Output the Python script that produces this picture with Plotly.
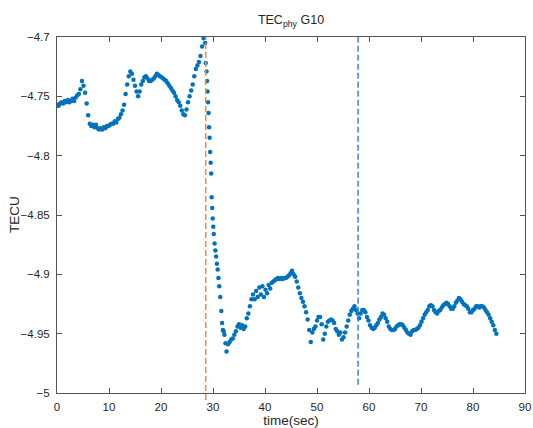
import numpy as np
import plotly.graph_objects as go

# ---- data ----
# segment before the drop: samples every 0.3 s starting at 0 s
tec_pre = [
    -4.757, -4.758, -4.756, -4.755, -4.756, -4.754, -4.755, -4.753, -4.755, -4.754,
    -4.752, -4.754, -4.751, -4.749, -4.748, -4.744, -4.737, -4.741, -4.747, -4.756,
    -4.766, -4.773, -4.775, -4.774, -4.776, -4.774, -4.777, -4.778, -4.777, -4.778,
    -4.776, -4.777, -4.775, -4.775, -4.774, -4.773, -4.773, -4.771, -4.772, -4.769,
    -4.768, -4.765, -4.762, -4.757, -4.748, -4.740, -4.733, -4.729, -4.731, -4.736,
    -4.741, -4.746, -4.750, -4.746, -4.740, -4.737, -4.734, -4.733, -4.735, -4.737,
    -4.737, -4.736, -4.735, -4.733, -4.731, -4.732, -4.733, -4.734, -4.735, -4.736,
    -4.737, -4.739, -4.741, -4.743, -4.745, -4.747, -4.750, -4.753, -4.755, -4.758,
    -4.762, -4.765, -4.766, -4.761, -4.755, -4.750, -4.745, -4.740, -4.733, -4.727,
    -4.724, -4.721, -4.716, -4.708, -4.701, -4.705,
]
pre_start, pre_step = 0.0, 0.3

# the drop (irregular sample times)
time_drop = [
    28.6, 28.75, 28.85, 28.95, 29.05, 29.15, 29.25, 29.35, 29.45, 29.55,
    29.65, 29.75, 29.85, 29.95, 30.05, 30.15, 30.3, 30.45, 30.6, 30.75,
    30.9, 31.05, 31.2, 31.4, 31.6, 31.75, 31.9, 32.05, 32.2, 32.4, 32.6,
]
tec_drop = [
    -4.722, -4.729, -4.737, -4.746, -4.755, -4.764, -4.776, -4.785, -4.797, -4.806,
    -4.815, -4.835, -4.844, -4.853, -4.860, -4.866, -4.874, -4.880, -4.885, -4.891,
    -4.896, -4.903, -4.910, -4.919, -4.931, -4.941, -4.947, -4.948, -4.951, -4.958,
    -4.965,
]

# segment after the drop: samples every 0.3 s starting at 32.9 s
tec_post = [
    -4.959, -4.957, -4.955, -4.954, -4.951, -4.948, -4.944, -4.942, -4.945, -4.943,
    -4.946, -4.944, -4.937, -4.933, -4.927, -4.921, -4.917, -4.921, -4.914, -4.919,
    -4.911, -4.917, -4.910, -4.919, -4.913, -4.916, -4.909, -4.912, -4.907, -4.906,
    -4.905, -4.904, -4.903, -4.904, -4.903, -4.904, -4.903, -4.903, -4.902, -4.901,
    -4.899, -4.897, -4.900, -4.902, -4.906, -4.911, -4.916, -4.920, -4.923, -4.927,
    -4.932, -4.938, -4.947, -4.957, -4.949, -4.946, -4.944, -4.939, -4.936, -4.936,
    -4.942, -4.955, -4.950, -4.944, -4.940, -4.939, -4.938, -4.939, -4.941, -4.946,
    -4.948, -4.951, -4.949, -4.955, -4.953, -4.949, -4.944, -4.939, -4.934, -4.931,
    -4.929, -4.927, -4.930, -4.933, -4.937, -4.933, -4.930, -4.930, -4.932, -4.936,
    -4.939, -4.943, -4.945, -4.946, -4.945, -4.943, -4.941, -4.938, -4.936, -4.933,
    -4.934, -4.937, -4.940, -4.944, -4.946, -4.947, -4.947, -4.946, -4.944, -4.943,
    -4.942, -4.942, -4.943, -4.945, -4.947, -4.949, -4.950, -4.951, -4.948, -4.947,
    -4.947, -4.946, -4.945, -4.943, -4.940, -4.937, -4.934, -4.932, -4.930, -4.927,
    -4.926, -4.927, -4.930, -4.932, -4.933, -4.931, -4.930, -4.928, -4.926, -4.925,
    -4.924, -4.925, -4.927, -4.929, -4.929, -4.927, -4.924, -4.922, -4.920, -4.921,
    -4.923, -4.925, -4.926, -4.927, -4.929, -4.932, -4.932, -4.930, -4.929, -4.927,
    -4.927, -4.928, -4.927, -4.927, -4.928, -4.930, -4.932, -4.934, -4.937, -4.940,
    -4.943, -4.947, -4.950,
]
post_start, post_step = 32.9, 0.3

# event markers (vertical dashed lines)
event_orange = 28.6
event_blue = 57.9
event_blue_bottom = -4.993

x_ticks = [0, 10, 20, 30, 40, 50, 60, 70, 80, 90]
y_ticks = [-5, -4.95, -4.9, -4.85, -4.8, -4.75, -4.7]
y_tick_text = ["\u22125", "\u22124.95", "\u22124.9", "\u22124.85", "\u22124.8", "\u22124.75", "\u22124.7"]

# ---- assemble ----
time_pre = list(np.round(pre_start + pre_step * np.arange(len(tec_pre)), 2))
time_post = list(np.round(post_start + post_step * np.arange(len(tec_post)), 2))
time_all = time_pre + time_drop + time_post
tec_all = tec_pre + tec_drop + tec_post

FONT = "Liberation Sans, Arial, sans-serif"
TXT = "#262626"
AX = "#555555"
W, H = 533, 428
ML, MR, MT, MB = 57, 8, 37, 35

fig = go.Figure()
fig.add_trace(go.Scatter(
    x=time_all, y=tec_all, mode="markers",
    marker=dict(size=4.5, color="#0072BD", line=dict(width=0)),
    showlegend=False,
))

fig.add_shape(type="line", xref="x", yref="paper", x0=event_orange, x1=event_orange,
              y0=-0.02, y1=1, line=dict(color="#F0893A", width=1.5, dash="6px,3px"))
fig.add_shape(type="line", xref="x", yref="y", x0=event_blue, x1=event_blue,
              y0=event_blue_bottom, y1=-4.7, line=dict(color="#2F8AD6", width=1.5, dash="6px,3px"))

# y-axis title as a rotated annotation (placed a little closer than the automatic title)
fig.add_annotation(text="TECU", xref="paper", yref="paper",
                   x=(14 - ML) / (W - ML - MR), y=0.5, xanchor="center", yanchor="middle",
                   textangle=-90, showarrow=False, font=dict(size=13.5, color=TXT))

fig.update_layout(
    width=W, height=H,
    margin=dict(l=ML, r=MR, t=MT, b=MB, pad=0),
    paper_bgcolor="white", plot_bgcolor="white",
    font=dict(family=FONT, color=TXT, size=12),
    title=dict(text="TEC<sub>phy</sub> G10", x=0.5, xref="paper", xanchor="center",
               y=1 - 20 / H, yanchor="middle", font=dict(size=12.5, color=TXT)),
    xaxis=dict(range=[0, 90], tickvals=x_ticks, ticktext=[str(v) for v in x_ticks],
               ticks="inside", ticklen=5, tickcolor=AX, showline=True, linecolor=AX,
               linewidth=1, mirror="ticks", showgrid=False, zeroline=False,
               automargin=False,
               tickfont=dict(size=11.5, color=TXT), ticklabelstandoff=3,
               title=dict(text="time(sec)", font=dict(size=13.5, color=TXT), standoff=0)),
    yaxis=dict(range=[-5, -4.7], tickvals=y_ticks, ticktext=y_tick_text,
               ticks="inside", ticklen=5, tickcolor=AX, showline=True, linecolor=AX,
               linewidth=1, mirror="ticks", showgrid=False, zeroline=False,
               automargin=False,
               tickfont=dict(size=11.5, color=TXT), ticklabelstandoff=4),
)

fig.write_html(
    "out.html",
    config={"displayModeBar": False},
    post_script="document.body.style.margin='0px';document.body.style.overflow='hidden';",
)
